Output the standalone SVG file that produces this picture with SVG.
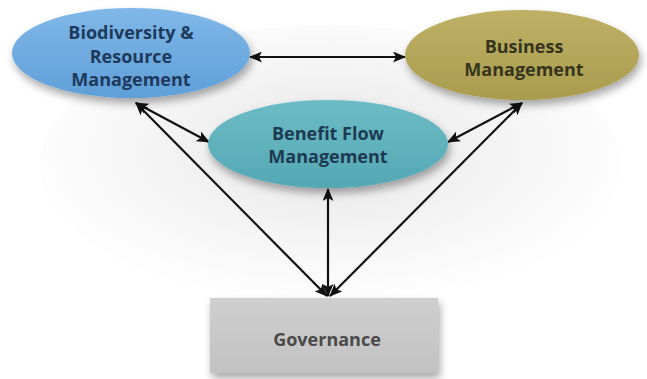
<svg xmlns="http://www.w3.org/2000/svg" width="647" height="379" viewBox="0 0 647 379">
<defs>
<radialGradient id="bg" cx="0.5" cy="0.45" r="0.55">
<stop offset="0" stop-color="#e6e6e6"/>
<stop offset="0.55" stop-color="#f4f4f4"/>
<stop offset="1" stop-color="#ffffff"/>
</radialGradient>
<linearGradient id="gBio" x1="0" y1="0" x2="0" y2="1">
<stop offset="0" stop-color="#80b8e8"/>
<stop offset="1" stop-color="#5f9fd8"/>
</linearGradient>
<linearGradient id="gBus" x1="0" y1="0" x2="0" y2="1">
<stop offset="0" stop-color="#beb166"/>
<stop offset="1" stop-color="#a99c4e"/>
</linearGradient>
<linearGradient id="gBen" x1="0" y1="0" x2="0" y2="1">
<stop offset="0" stop-color="#6cbcc6"/>
<stop offset="1" stop-color="#54a8b4"/>
</linearGradient>
<linearGradient id="gGov" x1="0" y1="0" x2="0" y2="1">
<stop offset="0" stop-color="#cfcfcf"/>
<stop offset="1" stop-color="#c2c2c2"/>
</linearGradient>
<filter id="sh" x="-20%" y="-30%" width="140%" height="170%">
<feGaussianBlur in="SourceAlpha" stdDeviation="4"/>
<feOffset dx="2" dy="5" result="b"/>
<feComponentTransfer><feFuncA type="linear" slope="0.35"/></feComponentTransfer>
<feMerge><feMergeNode/><feMergeNode in="SourceGraphic"/></feMerge>
</filter>
<marker id="ah" viewBox="0 0 13 11" refX="12" refY="5.5" markerWidth="13" markerHeight="11" markerUnits="userSpaceOnUse" orient="auto-start-reverse">
<path d="M0,0 L13,5.5 L0,11 L3,5.5 Z" fill="#111"/>
</marker>
<style>
.t{font-family:"Open Sans","Noto Sans","Liberation Sans",sans-serif;font-weight:bold;font-size:18px;text-anchor:middle}
.c{stroke:#111;stroke-width:2.2;fill:none;marker-start:url(#ah);marker-end:url(#ah)}
</style>
</defs>
<rect width="647" height="379" fill="#ffffff"/>
<ellipse cx="330" cy="165" rx="290" ry="140" fill="url(#bg)"/>
<g id="connectors">
<line class="c" x1="250" y1="57" x2="405" y2="57"/>
<line class="c" x1="136" y1="103" x2="209" y2="142"/>
<line class="c" x1="136" y1="103" x2="327" y2="296"/>
<line class="c" x1="522" y1="103" x2="448" y2="142"/>
<line class="c" x1="522" y1="103" x2="330" y2="296"/>
<line class="c" x1="328" y1="189" x2="328" y2="296"/>
</g>
<g id="biodiversity">
<ellipse cx="131" cy="53" rx="119" ry="45" fill="url(#gBio)" filter="url(#sh)"/>
<text class="t" fill="#1d3a5c" x="131" y="39">Biodiversity &amp;</text>
<text class="t" fill="#1d3a5c" x="131" y="63">Resource</text>
<text class="t" fill="#1d3a5c" x="131" y="86">Management</text>
</g>
<g id="business">
<ellipse cx="522" cy="55" rx="117" ry="45" fill="url(#gBus)" filter="url(#sh)"/>
<text class="t" fill="#35351c" x="524" y="53">Business</text>
<text class="t" fill="#35351c" x="524" y="76">Management</text>
</g>
<g id="benefit">
<ellipse cx="328" cy="144" rx="120" ry="44" fill="url(#gBen)" filter="url(#sh)"/>
<text class="t" fill="#1d3a52" x="328" y="140">Benefit Flow</text>
<text class="t" fill="#1d3a52" x="328" y="163">Management</text>
</g>
<g id="governance">
<rect x="210" y="298" width="228" height="75" fill="url(#gGov)" filter="url(#sh)"/>
<text class="t" fill="#4a4a4a" x="327" y="346">Governance</text>
</g>
</svg>
